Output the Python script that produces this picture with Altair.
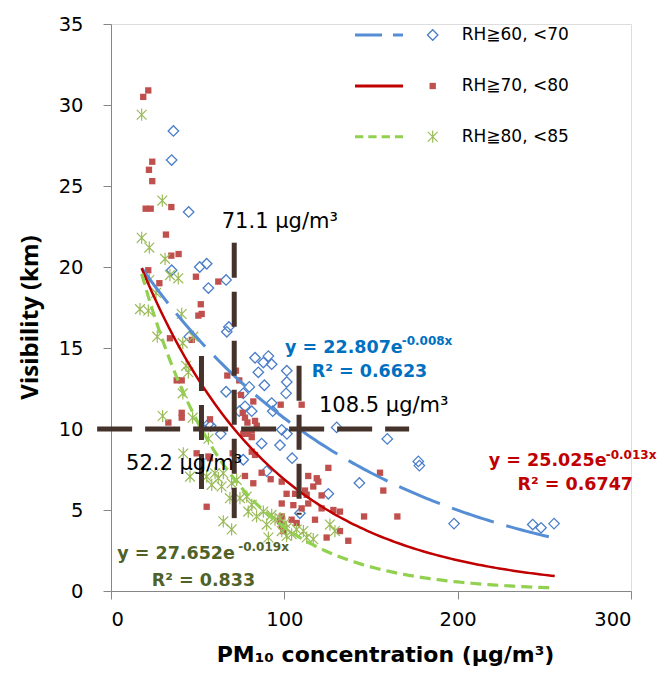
import altair as alt
import pandas as pd
import numpy as np

series = ["RH≧60, <70", "RH≧70, <80", "RH≧80, <85"]

blue_x = [36.0, 35.0, 44.8, 35.0, 51.2, 55.2, 56.2, 66.4, 66.8, 68.0, 45.2,
          83.1, 87.9, 90.8, 92.7, 85.0, 101.4, 101.4, 88.5, 66.4, 79.8, 76.3, 101.0,
          74.0, 77.3, 81.2, 92.7, 93.3, 98.5, 101.5, 130.2, 56.2, 57.5, 63.3,
          86.9, 97.5, 104.5, 89.8, 76.3, 109.0, 125.4,
          159.4, 177.3, 177.9, 143.3, 197.9, 243.3, 248.1, 255.6]
blue_y = [28.4, 26.6, 23.4, 19.8, 20.0, 20.2, 18.7, 19.2, 16.0, 16.3, 15.7,
          14.4, 14.1, 14.5, 14.0, 13.5, 13.6, 12.9, 12.7, 12.3, 12.6, 12.2, 12.2,
          11.1, 11.4, 11.1, 11.6, 11.1, 9.95, 9.7, 10.1, 10.3, 10.2, 9.7,
          9.1, 9.0, 8.2, 7.4, 8.1, 4.8, 6.0,
          9.39, 8.0, 7.74, 6.67, 4.16, 4.1, 3.9, 4.16]

red_x = [21.5, 18.6, 23.8, 21.9, 23.8, 20.0, 22.9, 34.8, 31.7, 34.8, 39.0,
         21.5, 49.0, 61.9, 27.9, 51.8, 52.3, 50.4, 34.0, 46.6, 72.1, 67.1, 74.0,
         37.9, 40.8, 75.0, 82.1, 97.9, 110.0, 40.8, 40.8, 33.1, 57.1, 76.0, 77.3,
         78.7, 83.1, 84.1, 81.2, 79.2, 81.2, 76.3,
         49.4, 56.2, 57.1, 81.2, 83.1, 70.2, 77.3, 82.1, 86.9, 92.1, 98.5, 101.3,
         106.2, 111.9, 113.8, 116.7, 118.7, 119.6, 121.5, 112.9, 125.4, 98.5, 105.2,
         110.0, 113.8, 121.5, 128.3, 132.1, 98.5, 97.5, 98.5, 99.4, 104.2, 107.1,
         117.7, 124.4, 132.1, 136.9, 55.2,
         155.2, 157.1, 146.0, 165.2]
red_y = [30.9, 30.5, 26.5, 26.0, 25.3, 23.6, 23.6, 23.7, 22.0, 20.7, 20.8,
         19.8, 19.4, 19.1, 19.0, 17.7, 17.1, 17.0, 15.6, 15.5, 13.6, 13.3, 13.0,
         13.0, 13.0, 12.1, 11.7, 11.5, 11.5, 11.0, 10.7, 10.4, 10.6, 11.0, 10.7,
         10.4, 10.5, 10.2, 9.9, 9.7, 9.5, 9.7,
         8.5, 8.3, 8.2, 8.6, 8.4, 8.5, 7.1, 6.65, 7.3, 6.9, 6.75, 6.0,
         6.0, 6.2, 7.1, 6.45, 6.96, 6.75, 5.9, 5.94, 7.6, 5.4, 5.3,
         5.1, 5.4, 5.1, 5.0, 4.9, 4.6, 4.3, 4.0, 3.7, 4.4, 4.2,
         4.4, 3.3, 3.7, 3.1, 5.2,
         7.3, 6.2, 4.6, 4.6]

green_x = [17.7, 29.6, 17.7, 22.1, 31.2,
           34.0, 38.8, 22.1, 26.0, 16.7, 21.5, 40.8, 26.7, 47.5, 41.4, 43.3, 44.6,
           41.4, 29.8, 47.1, 56.2,
           41.7, 45.6, 55.2, 60.0, 61.9, 64.8, 58.1, 63.8, 69.6, 72.5, 68.6, 74.4,
           78.3, 81.2, 79.2, 84.0, 87.9, 89.8, 92.7, 94.6, 97.5, 100.4, 101.3, 98.5,
           104.2, 107.1, 111.0, 112.9, 116.7, 64.8, 69.6, 90.8, 101.3, 126.3, 129.2]
green_y = [29.4, 24.1, 21.8, 21.2, 20.5,
           19.5, 19.3, 19.2, 18.4, 17.4, 17.3, 17.1, 15.7, 15.7, 15.3, 13.9, 13.5,
           12.2, 10.8, 10.7, 9.4,
           8.49, 7.06, 7.06, 7.27, 6.96, 7.27, 6.55, 6.45, 6.65, 6.86, 5.73, 5.73,
           5.83, 5.32, 4.9, 4.6, 4.9, 4.1, 4.7, 4.4, 4.5, 4.2, 3.9, 3.7,
           3.5, 3.8, 3.7, 3.3, 3.2, 4.3, 3.8, 3.3, 3.4, 4.1, 3.7]

# exponential fits y = a * exp(b x)
fit_a = [22.807, 25.025, 27.652]
fit_b = [-0.0076, -0.0129, -0.0195]
fit_range = [17.7, 256.0]

eq_main = ["y = 22.807e", "y = 25.025e", "y = 27.652e"]
eq_exp = ["-0.008x", "-0.013x", "-0.019x"]
eq_r2 = ["R² = 0.6623", "R² = 0.6747", "R² = 0.833"]
eq_main_x = [100.4, 218.0, 3.6]
eq_main_y = [15.02, 8.0, 2.3]
eq_exp_x = [167.7, 285.4, 73.4]
eq_exp_y = [15.42, 8.4, 2.7]
eq_r2_x = [115.8, 234.5, 23.5]
eq_r2_y = [13.5, 6.57, 0.6]
eq_colors = ["#0070C0", "#C00000", "#4F6228"]

ann_text = ["71.1 μg/m³", "108.5 μg/m³", "52.2 μg/m³"]
ann_x = [63.9, 120.0, 8.7]
ann_y = [22.8, 11.4, 7.87]

vline_x = [52.2, 71.1, 108.5]
vline_lo = [5.5, 4.5, 4.7]
vline_hi = [14.5, 21.5, 13.9]
hline_y = [10.0]
hline_x1 = [-8.0]
hline_x2 = [172.0]

marker_colors = ["#4A7EC9", "#C0504D", "#9BBB59"]
line_colors = ["#558ED5", "#C00000", "#92D050"]
cross_color = "#45322A"
star_path = "M-0.8,-0.8L0.8,0.8M-0.8,0.8L0.8,-0.8M0,-1L0,1"

xs = alt.Scale(domain=[0, 300], nice=False, zero=False)
ys = alt.Scale(domain=[0, 35], nice=False, zero=False)
X = alt.X("x:Q", scale=xs, axis=alt.Axis(
    values=[0, 100, 200, 300], title="PM₁₀ concentration (μg/m³)",
    titleFont="DejaVu Sans", titleFontSize=22, titleFontWeight="bold", titleColor="#000000",
    titleX=274, titleY=70, titleBaseline="alphabetic", titleAlign="center",
    labelFont="DejaVu Sans", labelFontSize=19.5, labelColor="#000000", labelPadding=11,
    tickSize=8, tickColor="#868686", domainColor="#868686", grid=False))
Y = alt.Y("y:Q", scale=ys, axis=alt.Axis(
    values=[0, 5, 10, 15, 20, 25, 30, 35], title="Visibility (km)",
    titleFont="Open Sans", titleFontSize=24, titleFontWeight="bold", titleColor="#000000",
    titleX=-81, titleY=293, titleAngle=270, titleAlign="center", titleBaseline="middle",
    labelFont="DejaVu Sans", labelFontSize=19.5, labelColor="#000000", labelPadding=20,
    tickSize=8, tickColor="#868686", domainColor="#868686", grid=False))

blue_df = pd.DataFrame({"x": blue_x, "y": blue_y})
red_df = pd.DataFrame({"x": red_x, "y": red_y})
green_df = pd.DataFrame({"x": green_x, "y": green_y})

blue_pts = alt.Chart(blue_df).mark_point(shape="diamond", filled=False, color=marker_colors[0],
                                         strokeWidth=1.3, size=110, opacity=1).encode(x=X, y=Y)
red_pts = alt.Chart(red_df).mark_square(size=40, color=marker_colors[1], opacity=1).encode(x=X, y=Y)
green_pts = alt.Chart(green_df).mark_point(shape=star_path, filled=False, color=marker_colors[2],
                                           strokeWidth=1.2, size=150, opacity=1).encode(x=X, y=Y)

xx = np.linspace(fit_range[0], fit_range[1], 120)
curves = []
dashes = [[44, 13], None, [11, 6]]
widths = [3, 2.5, 3.2]
for i in range(3):
    cdf = pd.DataFrame({"x": xx, "y": fit_a[i] * np.exp(fit_b[i] * xx)})
    kw = dict(color=line_colors[i], strokeWidth=widths[i])
    if dashes[i] is not None:
        kw["strokeDash"] = dashes[i]
    curves.append(alt.Chart(cdf).mark_line(**kw).encode(x=X, y=Y))

vdf = pd.DataFrame({"x": vline_x, "y": vline_hi, "y2": vline_lo})
vrules = alt.Chart(vdf).mark_rule(color=cross_color, strokeWidth=5, strokeDash=[35, 14]).encode(
    x=X, y=Y, y2=alt.Y2("y2:Q"))
hdf = pd.DataFrame({"x": hline_x1, "x2": hline_x2, "y": hline_y})
hrule = alt.Chart(hdf).mark_rule(color=cross_color, strokeWidth=5, strokeDash=[35, 13]).encode(
    x=X, x2=alt.X2("x2:Q"), y=Y)

adf = pd.DataFrame({"x": ann_x, "y": ann_y, "t": ann_text})
ann = alt.Chart(adf).mark_text(align="left", baseline="middle", font="DejaVu Sans",
                               fontSize=21, color="#000000").encode(x=X, y=Y, text="t:N")

texts = []
for i in range(3):
    mdf = pd.DataFrame({"x": [eq_main_x[i], eq_r2_x[i]], "y": [eq_main_y[i], eq_r2_y[i]],
                        "t": [eq_main[i], eq_r2[i]]})
    texts.append(alt.Chart(mdf).mark_text(align="left", baseline="middle", font="DejaVu Sans",
                                          fontSize=17.5, fontWeight="bold", color=eq_colors[i])
                 .encode(x=X, y=Y, text="t:N"))
    edf = pd.DataFrame({"x": [eq_exp_x[i]], "y": [eq_exp_y[i]], "t": [eq_exp[i]]})
    texts.append(alt.Chart(edf).mark_text(align="left", baseline="middle", font="DejaVu Sans",
                                          fontSize=12, fontWeight="bold", color=eq_colors[i])
                 .encode(x=X, y=Y, text="t:N"))

# legend (drawn in plot-area pixels)
leg_rows = [11, 62, 112.7]
leg_dash = [[27, 11], None, [8.3, 5]]
leg_width = [3, 3, 3]
legend = []
for i in range(3):
    ldf = pd.DataFrame({"t": [series[i]]})
    kw = dict(color=line_colors[i], strokeWidth=leg_width[i])
    if leg_dash[i] is not None:
        kw["strokeDash"] = leg_dash[i]
    legend.append(alt.Chart(ldf).mark_rule(**kw).encode(
        x=alt.value(244), x2=alt.value(292), y=alt.value(leg_rows[i])))
    if i == 0:
        sym = alt.Chart(ldf).mark_point(shape="diamond", filled=False, color=marker_colors[0],
                                        strokeWidth=1.3, size=110, opacity=1)
    elif i == 1:
        sym = alt.Chart(ldf).mark_square(size=40, color=marker_colors[1], opacity=1)
    else:
        sym = alt.Chart(ldf).mark_point(shape=star_path, filled=False, color=marker_colors[2],
                                        strokeWidth=1.2, size=150, opacity=1)
    legend.append(sym.encode(x=alt.value(321.7), y=alt.value(leg_rows[i])))
    legend.append(alt.Chart(ldf).mark_text(align="left", baseline="middle", font="DejaVu Sans",
                                           fontSize=17, color="#000000").encode(
        x=alt.value(350.7), y=alt.value(leg_rows[i]), text="t:N"))

chart = alt.layer(blue_pts, red_pts, green_pts, *curves, vrules, hrule, ann, *texts, *legend).properties(
    width=520, height=567,
    padding={"left": 103, "top": 16, "right": 30, "bottom": 76},
    autosize=alt.AutoSizeParams(type="none"),
).configure_view(stroke=None).configure(background="white")

chart.save("out.html", embed_options={"renderer": "svg", "actions": False})
